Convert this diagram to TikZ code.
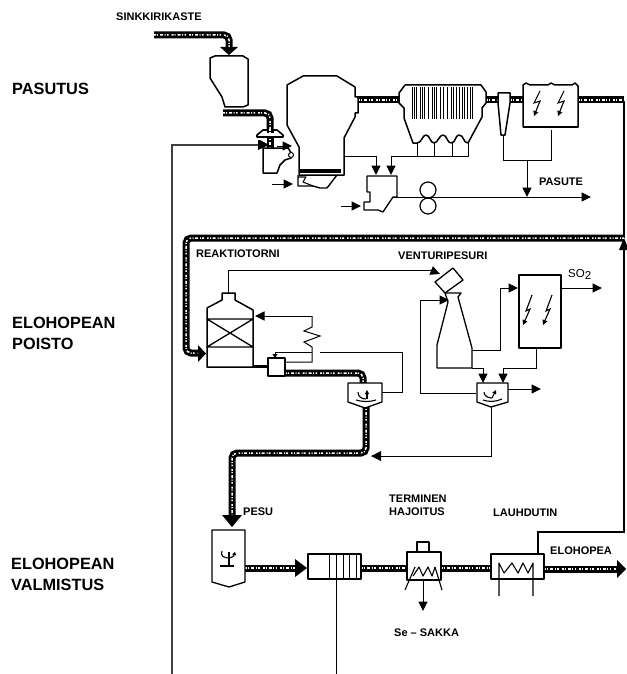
\documentclass[tikz,border=0pt]{standalone}
\usepackage{fontspec}
\setmainfont{Liberation Sans}
\usetikzlibrary{arrows.meta}
\tikzset{
  thinl/.style={line width=1pt,black},
  unit/.style={line width=1.5pt,black,line join=round,fill=white},
  med/.style={line width=1.1pt,black,line join=round},
  arr/.style={line width=1pt,black,-{Triangle[length=9.5pt,width=9pt]}},
  pipe/.style={line width=7pt,black,rounded corners=5pt,
    postaction={draw=white,line width=1.5pt,rounded corners=5pt,
      dash pattern=on 2pt off 1pt on 1pt off 2pt on 3pt off 1.5pt on 1pt off 1.5pt on 1.5pt off 3pt}},
  bigl/.style={anchor=west,font=\bfseries\fontsize{16.3}{18}\selectfont,inner sep=0pt},
  smal/.style={anchor=west,font=\bfseries\fontsize{11}{13}\selectfont,inner sep=0pt},
}
\begin{document}
\begin{tikzpicture}[x=1pt,y=-1pt]
\useasboundingbox (0,0) rectangle (626,674);
\fill[white] (0,0) rectangle (626,674);

% ---- long return lines
\draw[line width=1.3pt,black!75] (172,674) -- (172,145) -- (260,145);
\fill (258,140) -- (260,140) -- (269,145) -- (258,150) -- cycle;
\draw[line width=1.5pt] (624,100) -- (624,238);
\draw[line width=1.2pt] (624,246) -- (624,532) -- (538,532) -- (538,554);
\fill (624,238) -- (629,250) -- (619,250) -- cycle;
\draw[thinl] (336,579) -- (336,674);

% ---- pipes
\draw[pipe] (154,35) -- (229,35) -- (229,48);
\fill (220,47) -- (238,47) -- (229,55) -- cycle;
\draw[pipe] (223,113) -- (270,113) -- (270,137);
\draw[pipe] (270,136) -- (270,148);
\draw[pipe] (358,100) -- (399,100);
\draw[pipe] (486,100) -- (498,100);
\draw[pipe] (510,100) -- (523,100);
\draw[pipe] (578,100) -- (624,100);
\draw[pipe] (624,238) -- (186,238) -- (186,353) -- (199,353);
\fill (198,345) -- (198,362) -- (206,353.5) -- cycle;
\draw[pipe] (285,373) -- (363,373) -- (363,384);
\draw[pipe] (366,406) -- (366,453) -- (232,453) -- (232,516);
\fill (222,515) -- (242,515) -- (232,527) -- cycle;
\draw[pipe] (245,568) -- (296,568);
\fill (295,559) -- (295,577) -- (307,568) -- cycle;
\draw[pipe] (361,568) -- (407,568);
\draw[pipe] (441,568) -- (491,568);
\draw[pipe] (544,569) -- (618,569);
\fill (617,560) -- (617,578) -- (626,569) -- cycle;

% ---- hopper + feeder
\draw[unit] (210,58) -- (215,56) -- (243,56) -- (248,59) -- (248,105) -- (243,107) -- (225,107) -- (222,97) -- (210,78) -- cycle;
\draw[unit] (263,148) -- (288,148) -- (292,154) -- (291,158) -- (285,160) -- (280,165) -- (277,173) -- (263,173) -- cycle;
\draw[unit,line width=1.6pt] (257,135) -- (263,130) -- (277,130) -- (283,135) -- (283,137) -- (257,137) -- cycle;
\draw[pipe] (270,129) -- (270,133);
\draw[arr] (277,146) -- (292,146);
\draw[black,line width=1pt,fill=white] (291,155) circle (2.5);

% ---- furnace
\draw[unit] (287,85) -- (303,76) -- (337,76) -- (355,87) -- (355,97) -- (358,97) -- (358,113) -- (355,113) -- (355,117) -- (344,138) -- (344,175) -- (299,175) -- (299,147) -- (287,125) -- cycle;
\draw[line width=3.5pt] (300,171) -- (341,171);
\draw[med,line width=1.4pt] (298,175) -- (298,186) -- (313,186) -- (320,188) -- (327,188) -- (337,175);
\draw[med] (298,177) -- (306,177) -- (303,182) -- (313,186);
\draw[arr] (272,184) -- (293,184);

% ---- second unit + rollers
\draw[thinl] (344,156) -- (376,156);
\draw[arr] (376,156) -- (376,175);
\draw[thinl] (391,156) -- (469,156);
\draw[arr] (391,156) -- (391,175);
\foreach \xx in {417,434,452,468} \draw[thinl] (\xx,143) -- (\xx,156);
\draw[unit,line width=1.3pt] (367,176) -- (397,176) -- (397,197) -- (393,197) -- (383,212) -- (378,210) -- (364,210) -- (364,202) -- (370,202) -- (370,192) -- (367,192) -- cycle;
\draw[arr] (341,206) -- (361,206);
\draw[arr] (393,197) -- (591,197);
\draw[unit,line width=1.2pt,fill=none] (428,190) circle (8);
\draw[unit,line width=1.2pt,fill=none] (428,206) circle (8);

% ---- boiler
\draw[unit] (399,93) -- (405,85) -- (481,85) -- (486,92) -- (486,103) -- (482,108) -- (482,117) -- (468,143)
  .. controls (463,143) and (464,135) .. (459,135) .. controls (455,135) and (456,143) .. (451,143)
  .. controls (447,143) and (447,135) .. (443,135) .. controls (439,135) and (438,143) .. (434,143)
  .. controls (430,143) and (430,135) .. (426,135) .. controls (422,135) and (422,143) .. (417,143)
  -- (413,143) -- (404,118) -- (404,108) -- (399,103) -- cycle;
\foreach \xx in {412,414,416,420,422,424,428,432,434,436,440,443,447,451,453,456,459,462,464,467,470,472}
  \draw[line width=0.9pt] (\xx,87) -- (\xx,119);

% ---- cyclone
\draw[unit] (498,93) -- (510,93) -- (510,103) -- (505,135) -- (501,135) -- (498,103) -- cycle;
\draw[thinl] (503,136) -- (503,160) -- (551,160) -- (551,130);
\draw[arr] (527,160) -- (527,197);

% ---- electrofilter 1
\draw[unit] (523,85) -- (526,83) -- (530,85) -- (548,85) -- (551,83) -- (555,85) -- (572,85) -- (575,83) -- (578,86) -- (578,127) -- (523,127) -- cycle;
\foreach \xx in {537,561}
  \draw[line width=1.1pt,-{Triangle[length=5pt,width=5pt]}] (\xx+3,91) -- (\xx-3,103) -- (\xx+3,101) -- (\xx-3,116);

% ---- reaction tower
\draw[unit] (207,308) -- (222,300) -- (222,293) -- (235,293) -- (235,300) -- (253,310) -- (253,367) -- (207,367) -- cycle;
\draw[med,line width=1.3pt] (207,319) -- (253,319) -- (207,347) -- (253,347) -- (207,319) -- cycle;
\draw[thinl] (228,293) -- (228,270) -- (430,270);
\draw[arr] (430,270) -- (440,274);
\draw[arr] (312,316) -- (255,316);
\draw[thinl] (312,316) -- (312,327) -- (304,331) -- (320,336) -- (304,342) -- (312,347) -- (312,362) -- (285,362);
\draw[thinl] (312,352) -- (275,352);
\draw[line width=1pt,-{Triangle[length=4pt,width=5pt]}] (275,352) -- (275,358);
\draw[unit,line width=1.3pt] (268,358) rectangle (285,376);
\draw[line width=3pt] (253,366) -- (268,366);
\draw[thinl] (320,352) -- (402,352) -- (402,392) -- (382,392);

% ---- thickener 1
\draw[unit,line width=1.3pt] (348,383) -- (382,383) -- (382,402) -- (365,408) -- (348,402) -- cycle;
\draw[med] (358,392) .. controls (358,397) and (362,399) .. (366,399);
\draw[med,-{Triangle[length=4pt,width=4pt]}] (367,399) -- (367,390);
\draw[med] (356,400) .. controls (362,402) and (370,402) .. (376,400);

% ---- venturi
\draw[unit,line width=1.3pt] (435,282) -- (453,268) -- (463,280) -- (445,293) -- cycle;
\draw[unit,line width=1.3pt] (445,293) -- (461,293) -- (458,297) -- (472,348) -- (472,368) -- (437,368) -- (437,345) -- (448,302) -- cycle;
\draw[thinl] (476,393) -- (420,393) -- (420,300);
\draw[arr] (420,300) -- (449,300);
\draw[thinl] (472,350) -- (500,350) -- (500,288);
\draw[arr] (500,288) -- (518,288);
\draw[unit,line width=1.4pt] (519,275) rectangle (561,348);
\draw[arr] (561,288) -- (602,288);
\foreach \xx in {527,547}
  \draw[line width=1.1pt,-{Triangle[length=5pt,width=5pt]}] (\xx+5,295) -- (\xx-1,311) -- (\xx+3,309) -- (\xx-4,325);
\draw[thinl] (472,368) -- (483,368);
\draw[arr] (483,368) -- (483,383);
\draw[thinl] (536,348) -- (536,368) -- (503,368);
\draw[arr] (503,368) -- (503,383);
\draw[arr] (508,389) -- (541,389);

% ---- thickener 2
\draw[unit,line width=1.3pt] (477,383) -- (508,383) -- (508,402) -- (491,407) -- (477,402) -- cycle;
\draw[med] (484,392) .. controls (484,396) and (488,398) .. (492,398);
\draw[med,-{Triangle[length=4pt,width=4pt]}] (492,398) -- (496,390);
\draw[med] (483,400) .. controls (488,402) and (496,402) .. (502,399);
\draw[thinl] (491,407) -- (491,456) -- (378,456);
\fill (371,456) -- (381,451) -- (381,461) -- cycle;

% ---- washer
\draw[unit,line width=1.3pt] (212,530) -- (245,530) -- (245,582) -- (229,587) -- (212,582) -- cycle;
\draw[med] (222,551) .. controls (220,556) and (224,558) .. (229,558);
\draw[med,-{Triangle[length=3pt,width=4pt]}] (229,558) .. controls (232,558) and (234,556) .. (235,552);
\draw[med] (229,552) -- (229,566);
\draw[med] (220,566) -- (234,566);

% ---- filter
\draw[unit,line width=1.3pt] (308,554) rectangle (361,579);
\foreach \xx in {329,336,343,349,356} \draw[thinl] (\xx,554) -- (\xx,579);

% ---- thermal decomposition
\draw[unit,line width=1.3pt] (417,542) rectangle (429,552);
\draw[unit,line width=1.3pt] (407,552) rectangle (441,580);
\draw[med] (415,567) -- (405,590);
\draw[med] (435,567) -- (442,590);
\draw[med] (413,576) -- (419,567) -- (423,576) -- (428,567) -- (432,576) -- (435,567);
\draw[arr] (423,580) -- (423,611);

% ---- condenser
\draw[unit,line width=1.3pt] (491,554) rectangle (544,579);
\draw[med] (499,596) -- (499,563) -- (504,573) -- (512,563) -- (518,573) -- (523,563) -- (528,573) -- (533,563) -- (533,596);

% ---- labels
\node[smal] (sink) at (116,17) {SINKKIRIKASTE};
\node[bigl] (pas) at (12,89) {PASUTUS};
\node[smal] (pasute) at (539,182) {PASUTE};
\node[smal] (reak) at (196,254) {REAKTIOTORNI};
\node[smal] (vent) at (398,256) {VENTURIPESURI};
\node[smal,font=\fontsize{11.5}{13}\selectfont] (so) at (568,274) {SO\raisebox{-2pt}{2}};
\node[bigl] (e1) at (12,323) {ELOHOPEAN};
\node[bigl] (po) at (12,344) {POISTO};
\node[bigl] (e2) at (11,564) {ELOHOPEAN};
\node[bigl] (va) at (11,585) {VALMISTUS};
\node[smal] (pesu) at (243,512) {PESU};
\node[smal] (ter) at (389,499) {TERMINEN};
\node[smal] (haj) at (389,512) {HAJOITUS};
\node[smal] (lau) at (493,513) {LAUHDUTIN};
\node[smal] (elo) at (550,551) {ELOHOPEA};
\node[smal] (se) at (394,633) {Se -- SAKKA};
\end{tikzpicture}
\end{document}
